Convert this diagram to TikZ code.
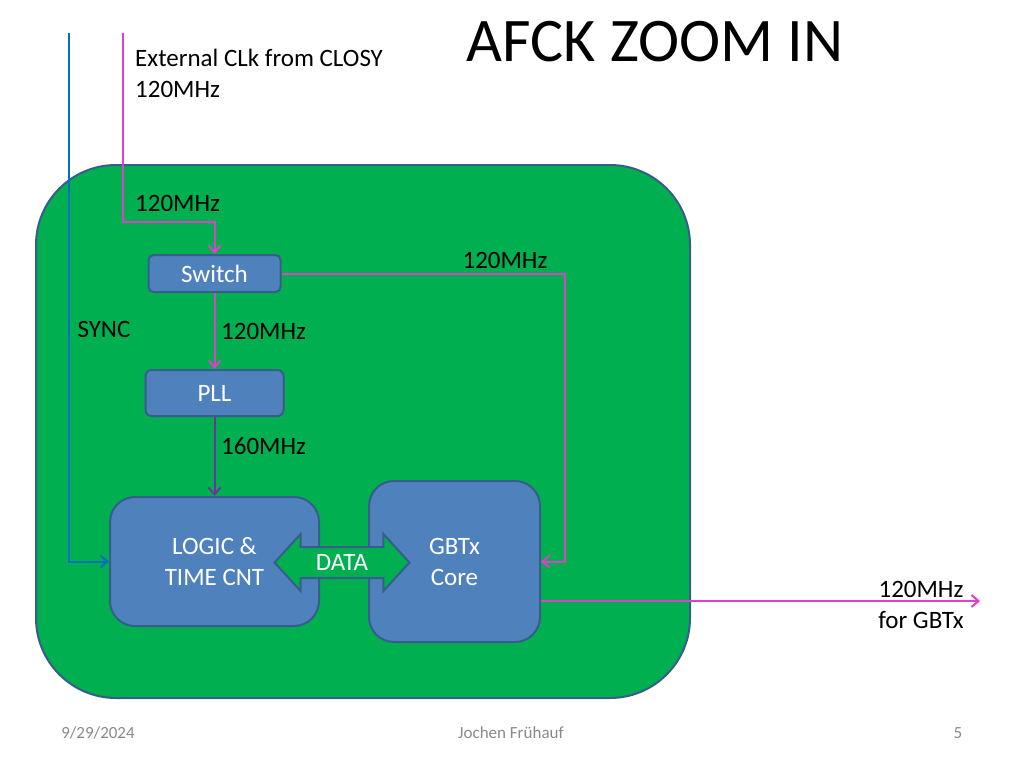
\documentclass[tikz,border=0pt]{standalone}
\usepackage{fontspec}
\setmainfont{Carlito}
\usetikzlibrary{arrows.meta,calc,positioning,shapes.arrows}
\definecolor{afgreen}{RGB}{0,176,80}
\definecolor{afblue}{RGB}{79,129,189}
\definecolor{afedge}{RGB}{56,93,138}
\definecolor{afclk}{RGB}{224,64,200}
\definecolor{afsync}{RGB}{0,112,192}
\definecolor{afpll}{RGB}{112,48,160}
\definecolor{afgray}{RGB}{137,137,137}

\begin{document}
\begin{tikzpicture}[x=1pt,y=-1pt,>={Straight Barb[length=7pt,width=12pt]},
    every node/.style={align=center,inner sep=0pt},
    lbl/.style={font=\fontsize{25}{31}\selectfont},
    foot/.style={font=\fontsize{17}{20}\selectfont,text=afgray},
    blk/.style={draw=afedge,line width=2pt,fill=afblue,text=white,font=\fontsize{25}{31}\selectfont},
    wire/.style={line width=2pt,->}]
    \useasboundingbox (0,0) rectangle (1024,768);
    \node[draw=afedge,line width=2pt,fill=afgreen,rounded corners=80pt,minimum width=654pt,minimum height=533pt] (board) at (363,431.5) {};
    \node[blk,rounded corners=5pt,minimum width=132pt,minimum height=37pt] (switch) at (214.5,273.5) {Switch};
    \node[blk,rounded corners=6pt,minimum width=138pt,minimum height=46pt] (pll) at (214.5,393) {PLL};
    \node[blk,rounded corners=25pt,minimum width=209pt,minimum height=129pt] (logic) at (214.5,561.5) {LOGIC \&\\TIME CNT};
    \node[blk,rounded corners=25pt,minimum width=171pt,minimum height=161pt] (gbtx) at (454.5,561.5) {GBTx\\Core};
    \node[double arrow,draw=afedge,line width=2pt,fill=afgreen,text=white,font=\fontsize{25}{31}\selectfont,
      double arrow head extend=13pt,double arrow tip angle=95,minimum height=135pt,
      inner xsep=0pt,inner ysep=7pt,text height=15pt,text depth=0pt] (data) at (342,562.5) {DATA};
    \coordinate (syncin) at (69,33);
    \coordinate (clkin) at (123,33);
    \coordinate (clkbend) at (123,222);
    \coordinate (rbend) at (565,273.5);
    \coordinate (gbtxout) at ($(gbtx.east)+(0,39.5)$);
    \coordinate (clkout) at (980,601);
    \draw[wire,afsync] (syncin) |- (logic.west);
    \draw[wire,afclk] (clkin) -- (clkbend) -| (switch.north);
    \draw[wire,afclk] (switch.south) -- (pll.north);
    \draw[wire,afpll] (pll.south) -- (logic.north);
    \draw[wire,afclk] (switch.east) -| (rbend |- gbtx.east) -- (gbtx.east);
    \draw[wire,afclk] (gbtxout) -- (clkout);
    \node[lbl,anchor=west,align=left] (extlbl) at (135,73.5) {External CLk from CLOSY\\120MHz};
    \node[lbl,anchor=west] (inlbl) at (135,203) {120MHz};
    \node[lbl] (bypasslbl) at (505,260) {120MHz};
    \node[lbl] (synclbl) at (104,329) {SYNC};
    \node[lbl,anchor=west] (swlbl) at (221,331) {120MHz};
    \node[lbl,anchor=west] (plllbl) at (221,446) {160MHz};
    \node[lbl] (outlbl) at (921,604.5) {120MHz\\for GBTx};
    \node[font=\fontsize{62}{70}\selectfont,anchor=base] (title) at (655,62) {AFCK ZOOM IN};
    \node[foot] (date) at (98,733) {9/29/2024};
    \node[foot] (author) at (511,733) {Jochen Frühauf};
    \node[foot] (page) at (958,733) {5};
  \end{tikzpicture}
\end{document}
